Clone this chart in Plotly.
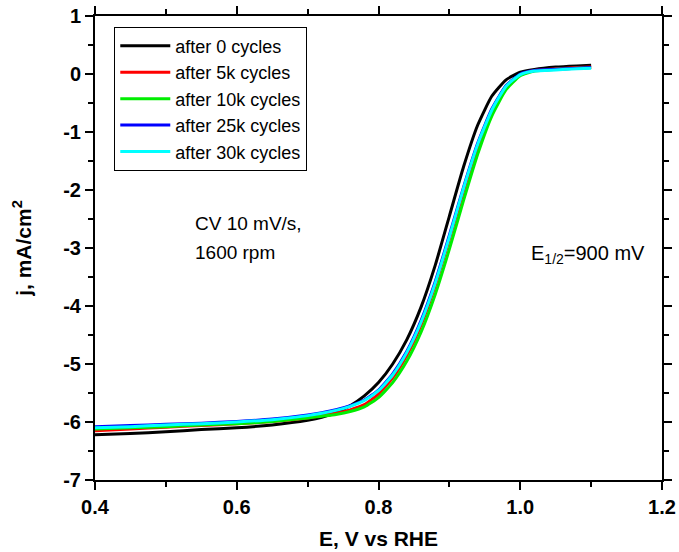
import plotly.graph_objects as go

E = [0.40, 0.45, 0.50, 0.55, 0.60, 0.65, 0.70, 0.72, 0.74, 0.76, 0.78, 0.80, 0.82,
     0.84, 0.86, 0.88, 0.90, 0.92, 0.94, 0.96, 0.98, 1.00, 1.02, 1.05, 1.08, 1.10]

j_0k = [-6.22, -6.20, -6.17, -6.13, -6.10, -6.05, -5.97, -5.92, -5.84, -5.72, -5.55, -5.32, -5.00,
        -4.58, -4.02, -3.30, -2.45, -1.60, -0.88, -0.38, -0.10, 0.03, 0.08, 0.12, 0.14, 0.15]
j_5k = [-6.15, -6.12, -6.09, -6.06, -6.03, -5.99, -5.93, -5.89, -5.85, -5.79, -5.70, -5.52, -5.24,
        -4.85, -4.33, -3.65, -2.85, -2.02, -1.25, -0.64, -0.22, -0.01, 0.06, 0.09, 0.11, 0.12]
j_10k = [-6.12, -6.10, -6.08, -6.05, -6.03, -5.99, -5.93, -5.90, -5.87, -5.82, -5.74, -5.58, -5.32,
         -4.95, -4.45, -3.80, -3.02, -2.18, -1.38, -0.72, -0.27, -0.03, 0.05, 0.08, 0.10, 0.11]
j_25k = [-6.08, -6.06, -6.04, -6.02, -5.99, -5.95, -5.88, -5.84, -5.79, -5.72, -5.62, -5.45, -5.17,
         -4.78, -4.25, -3.58, -2.78, -1.95, -1.19, -0.60, -0.20, 0.00, 0.06, 0.08, 0.10, 0.11]
j_30k = [-6.10, -6.08, -6.05, -6.03, -6.00, -5.96, -5.89, -5.85, -5.80, -5.73, -5.63, -5.46, -5.19,
         -4.80, -4.28, -3.61, -2.81, -1.97, -1.21, -0.62, -0.21, -0.01, 0.05, 0.07, 0.09, 0.10]

series = [
    ("after 0 cycles", j_0k, "#000000"),
    ("after 5k cycles", j_5k, "#ff0000"),
    ("after 10k cycles", j_10k, "#00ee00"),
    ("after 25k cycles", j_25k, "#0000ff"),
    ("after 30k cycles", j_30k, "#00ffff"),
]

x_ticks = [0.4, 0.6, 0.8, 1.0, 1.2]
x_ticklabels = ["0.4", "0.6", "0.8", "1.0", "1.2"]
y_ticks = [-7, -6, -5, -4, -3, -2, -1, 0, 1]
y_ticklabels = ["-7", "-6", "-5", "-4", "-3", "-2", "-1", "0", "1"]

fig = go.Figure()
for name, j, color in series:
    fig.add_trace(go.Scatter(x=E, y=j, mode="lines", name=name,
                             line=dict(color=color, width=3, shape="spline", smoothing=0.5)))

axis_common = dict(
    showline=True, linecolor="black", linewidth=2, mirror="ticks",
    ticks="outside", ticklen=8, tickwidth=2, tickcolor="black",
    showgrid=False, zeroline=False, automargin=False,
    tickfont=dict(family="Arial", size=20, color="black", weight="bold"),
)

fig.update_xaxes(range=[0.4, 1.2], tickvals=x_ticks, ticktext=x_ticklabels,
                 minor=dict(dtick=0.1, tick0=0.4, ticks="outside", ticklen=5, tickwidth=2, tickcolor="black"),
                 title=dict(text="<b>E, V vs RHE</b>", font=dict(family="Arial", size=21, color="black"), standoff=14),
                 **axis_common)
fig.update_yaxes(range=[-7, 1], tickvals=y_ticks, ticktext=y_ticklabels,
                 minor=dict(dtick=0.5, tick0=-7, ticks="outside", ticklen=5, tickwidth=2, tickcolor="black"),
                 title=dict(text="<b>j, mA/cm<sup>2</sup></b>", font=dict(family="Arial", size=21, color="black"), standoff=26),
                 **axis_common)

fig.add_annotation(x=0.538, y=-2.57, xref="x", yref="y", xanchor="left", yanchor="middle",
                   text="CV 10 mV/s,", showarrow=False, align="left",
                   font=dict(family="Arial", size=19, color="black"))
fig.add_annotation(x=0.538, y=-3.07, xref="x", yref="y", xanchor="left", yanchor="middle",
                   text="1600 rpm", showarrow=False, align="left",
                   font=dict(family="Arial", size=19, color="black"))
fig.add_annotation(x=1.013, y=-3.12, xref="x", yref="y", xanchor="left", yanchor="middle",
                   text="E<sub>1/2</sub>=900 mV", showarrow=False, align="left",
                   font=dict(family="Arial", size=20, color="black"))

fig.update_layout(
    width=679, height=552,
    margin=dict(l=95, r=17, t=16, b=72),
    plot_bgcolor="white", paper_bgcolor="white",
    font=dict(family="Arial", color="black"),
    legend=dict(x=0.034, y=0.977, xanchor="left", yanchor="top",
                bordercolor="black", borderwidth=1, bgcolor="white",
                font=dict(family="Arial", size=18, color="black"),
                tracegroupgap=0, itemwidth=50),
    showlegend=True,
)

fig.write_html("out.html")
